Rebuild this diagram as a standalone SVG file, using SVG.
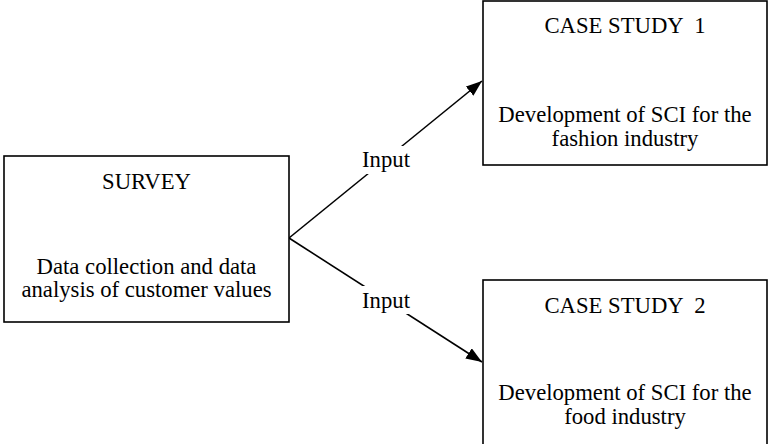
<svg xmlns="http://www.w3.org/2000/svg" width="768" height="444" viewBox="0 0 768 444">
  <defs>
    <marker id="arrow" viewBox="0 0 16 12" refX="16" refY="6" markerWidth="16" markerHeight="12" markerUnits="userSpaceOnUse" orient="auto">
      <path d="M0,0 L16,6 L0,12 z" fill="#000"/>
    </marker>
  </defs>
  <style>
    .box { fill: #fff; stroke: #000; stroke-width: 1.6; }
    .t { font-family: "Liberation Serif", "Times New Roman", serif; font-size: 22.7px; fill: #000; text-anchor: middle; }
    .edge { stroke: #000; stroke-width: 1.6; fill: none; }
    .lbl-bg { fill: #fff; }
  </style>
  <rect width="768" height="444" fill="#fff"/>

  <g id="connectors">
    <line class="edge" x1="289" y1="238" x2="482" y2="81" marker-end="url(#arrow)"/>
    <line class="edge" x1="289" y1="238" x2="482" y2="362" marker-end="url(#arrow)"/>
    <rect class="lbl-bg" x="360" y="146" width="52" height="28"/>
    <text class="t" x="386" y="167">Input</text>
    <rect class="lbl-bg" x="360" y="286" width="52" height="28"/>
    <text class="t" x="386" y="308">Input</text>
  </g>

  <g id="survey">
    <rect class="box" x="4" y="156" width="285" height="166"/>
    <text class="t" x="146.5" y="189">SURVEY</text>
    <text class="t" x="146.5" y="274">Data collection and data</text>
    <text class="t" x="146.5" y="297">analysis of customer values</text>
  </g>

  <g id="case-study-1">
    <rect class="box" x="483" y="1" width="284" height="164"/>
    <text class="t" x="625" y="33" xml:space="preserve">CASE STUDY  1</text>
    <text class="t" x="625" y="122">Development of SCI for the</text>
    <text class="t" x="625" y="146">fashion industry</text>
  </g>

  <g id="case-study-2">
    <rect class="box" x="483" y="280" width="284" height="170"/>
    <text class="t" x="625" y="313" xml:space="preserve">CASE STUDY  2</text>
    <text class="t" x="625" y="400">Development of SCI for the</text>
    <text class="t" x="625" y="424">food industry</text>
  </g>
</svg>
